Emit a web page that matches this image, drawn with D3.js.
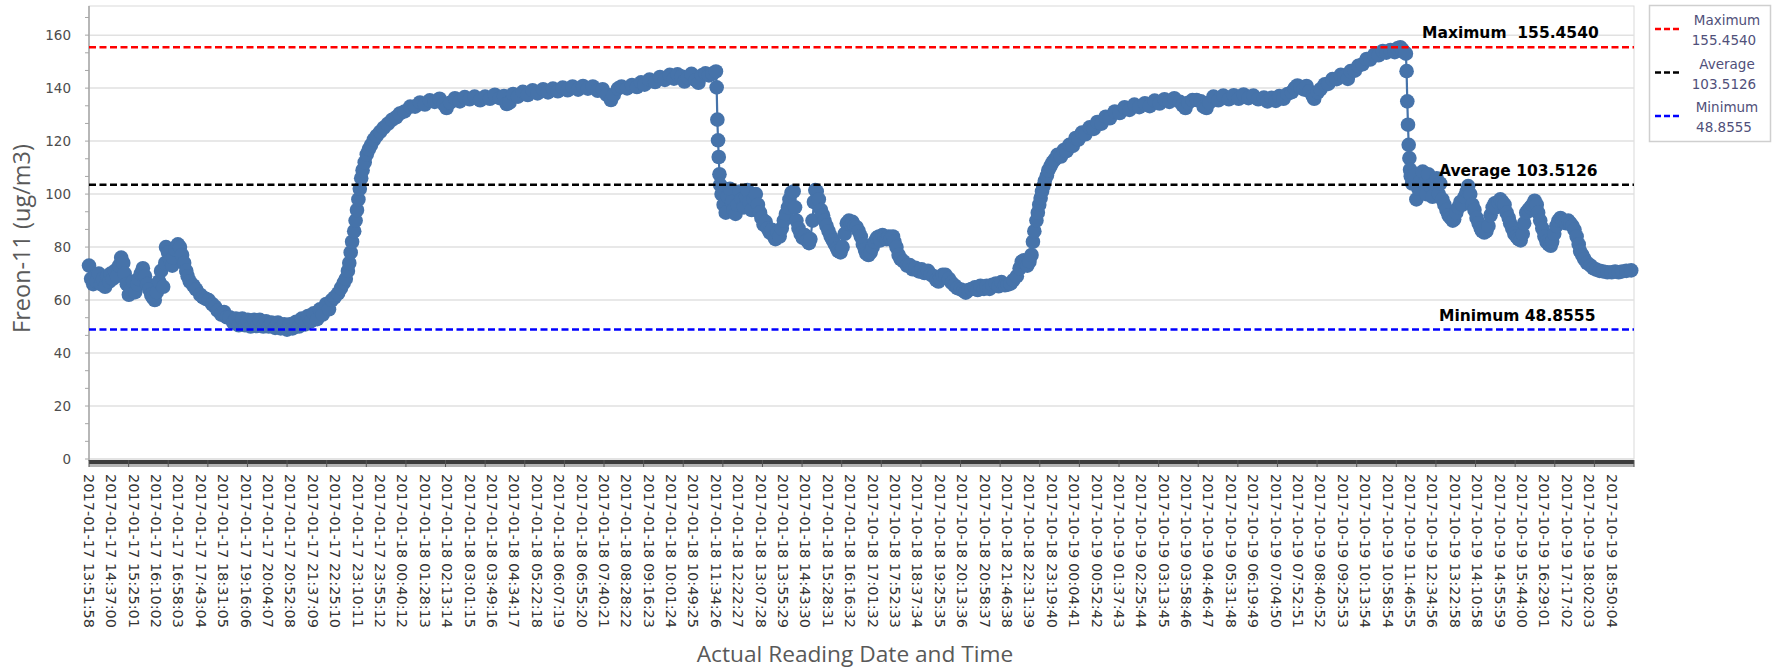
<!DOCTYPE html>
<html>
<head>
<meta charset="utf-8">
<script src="https://cdn.jsdelivr.net/npm/d3@7"></script>
<style>
  html, body { margin: 0; padding: 0; background: #ffffff; }
  svg { display: block; }
</style>
</head>
<body>
<svg id="chart" width="1779" height="668"></svg>
<script>
// Freon-11 concentration readings, one marker per sampled reading.
// Readings are numbered along the category axis; a date label is printed every 32 readings.
const readingsPerLabel = 32;

const tickLabels = [
  "2017-01-17 13:51:58", "2017-01-17 14:37:00", "2017-01-17 15:25:01", "2017-01-17 16:10:02",
  "2017-01-17 16:58:03", "2017-01-17 17:43:04", "2017-01-17 18:31:05", "2017-01-17 19:16:06",
  "2017-01-17 20:04:07", "2017-01-17 20:52:08", "2017-01-17 21:37:09", "2017-01-17 22:25:10",
  "2017-01-17 23:10:11", "2017-01-17 23:55:12", "2017-01-18 00:40:12", "2017-01-18 01:28:13",
  "2017-01-18 02:13:14", "2017-01-18 03:01:15", "2017-01-18 03:49:16", "2017-01-18 04:34:17",
  "2017-01-18 05:22:18", "2017-01-18 06:07:19", "2017-01-18 06:55:20", "2017-01-18 07:40:21",
  "2017-01-18 08:28:22", "2017-01-18 09:16:23", "2017-01-18 10:01:24", "2017-01-18 10:49:25",
  "2017-01-18 11:34:26", "2017-01-18 12:22:27", "2017-01-18 13:07:28", "2017-01-18 13:55:29",
  "2017-01-18 14:43:30", "2017-01-18 15:28:31", "2017-01-18 16:16:32", "2017-10-18 17:01:32",
  "2017-10-18 17:52:33", "2017-10-18 18:37:34", "2017-10-18 19:25:35", "2017-10-18 20:13:36",
  "2017-10-18 20:58:37", "2017-10-18 21:46:38", "2017-10-18 22:31:39", "2017-10-18 23:19:40",
  "2017-10-19 00:04:41", "2017-10-19 00:52:42", "2017-10-19 01:37:43", "2017-10-19 02:25:44",
  "2017-10-19 03:13:45", "2017-10-19 03:58:46", "2017-10-19 04:46:47", "2017-10-19 05:31:48",
  "2017-10-19 06:19:49", "2017-10-19 07:04:50", "2017-10-19 07:52:51", "2017-10-19 08:40:52",
  "2017-10-19 09:25:53", "2017-10-19 10:13:54", "2017-10-19 10:58:54", "2017-10-19 11:46:55",
  "2017-10-19 12:34:56", "2017-10-19 13:22:58", "2017-10-19 14:10:58", "2017-10-19 14:55:59",
  "2017-10-19 15:44:00", "2017-10-19 16:29:01", "2017-10-19 17:17:02", "2017-10-19 18:02:03",
  "2017-10-19 18:50:04"
];

// Reading numbers of the sampled points (rows line up with the rows of `freon`)
const readingNo = [
  0,3,6,9,11,14,17,20,23,26,29,31,34,37,40,43,46,49,51,54,57,60,63,66,69,71,74,77,80,83,86,89,91,94,97,100,
  103,106,109,110,113,116,119,121,124,127,130,133,136,139,141,144,149,153,159,163,167,171,176,180,184,189,193,197,
  201,206,210,214,219,223,227,231,236,240,244,249,253,257,261,266,270,274,279,283,287,291,296,300,304,309,313,317,321,326,330,334,339,343,
  347,351,356,360,364,367,370,372,374,376,379,381,383,385,387,389,391,394,397,400,403,407,411,416,421,427,433,439,
  444,451,459,466,473,480,487,494,501,507,511,516,523,530,537,544,551,559,
  566,573,580,587,593,597,601,606,613,620,627,634,641,649,656,663,670,677,684,691,699,706,713,720,727,734,
  740,746,750,756,761,769,776,783,789,794,801,809,816,823,830,836,841,847,851,856,861,867,871,876,881,886,891,
  896,897,898,899,900,901,902,
  904,907,910,913,916,919,921,924,927,930,933,936,939,941,944,947,950,953,956,959,
  961,964,967,970,973,976,979,981,984,987,990,993,996,999,1001,1004,1007,1009,1011,1014,
  1017,1020,1023,1026,1029,1031,1034,1036,1038,1040,1043,1046,1049,1051,1054,1057,1060,1063,1066,1069,
  1071,1074,1077,1080,1083,1086,1089,1091,1094,1097,1100,1103,1106,1109,1111,1114,1117,1120,1123,1126,
  1129,1131,1134,1137,1140,1143,1146,1149,1151,1154,1157,1160,
  1164,1169,1173,1177,1181,1186,1190,1194,1199,1203,1207,1211,1214,1217,1220,1224,1229,1233,1237,1241,
  1246,1250,1253,1257,1261,1266,1270,1274,1279,1283,1287,1291,1296,1300,1304,1309,1313,1317,1321,1326,
  1330,1333,1336,1339,1341,1344,1347,
  1349,1351,1354,1356,1358,1360,1362,1364,1366,1369,1371,1374,1377,1380,
  1384,1389,1393,1397,1401,1406,1410,1414,1419,1424,1430,1436,1441,1447,1453,1459,1466,1473,1480,1487,1494,1501,1509,1516,1523,1530,1537,1544,1551,1559,
  1563,1567,1571,1577,1583,1589,1593,1597,
  1601,1607,1614,1621,1629,1636,1643,1650,1657,1664,1671,1679,1684,1690,1696,1701,1707,1713,1719,
  1723,1727,1731,
  1736,1740,1744,1749,1751,1756,1760,1766,1771,1777,1783,1789,1794,1799,1803,1809,1814,1820,1826,1831,1837,1843,1849,1854,1860,1866,
  1870,1874,1877,1880,1882,
  1883,1884,1885,1886,1887,1888,1889,
  1891,1894,1897,1900,1903,1906,1909,1911,1914,1917,1920,1923,1926,1929,1931,1934,1937,1940,1943,1946,1949,
  1951,1954,1957,1960,1963,1966,1969,1971,1974,1977,1980,1983,1986,1989,1991,1994,1997,2000,2003,2006,2009,
  2011,2014,2017,2020,2023,2026,2029,2031,2034,2037,2040,2043,2046,2049,2051,2054,2057,2060,2063,2066,2069,
  2071,2074,2077,2080,2083,2086,2089,2091,2094,2097,2100,2103,2106,2109,2111,2114,2117,2120,2123,2126,2129,
  2131,2134,2137,2141,2146,2150,2154,2159,2164,2170,2176,2181,2186,2191,2197,2204
];

// Freon-11 (ug/m3) at each sampled reading
const freon = [
  73,68,66,69,67,70,66,68,65,69,67,70,68,71,69,73,76,74,70,66,62,64,67,63,66,68,70,72,69,66,64,62,61,60,63,67,
  71,65,74,80,78,75,73,76,79,81,80,77,74,71,69,67,65.5,64,62,61,60.5,60,58.5,57.5,56,54.5,55.5,53.5,
  53.5,51.5,53,50.5,53,50.5,52.5,50,52.5,50.2,52.5,50,52,50,51.5,49.5,51.5,49.3,50.8,48.8555,50.8,49.3,51.8,50,53,50.8,54,52,55,52.8,56.5,54.5,58.5,56.5,
  60,61,62.5,64.5,66.5,68,71,74,78,82,86,90,94,98,102,106,109,112,115,117,118.5,120.5,122,123.5,125,126.5,128,129,
  130.4,131.2,133,133,134.6,133.8,135.4,134.8,136,134,132.5,134.5,136.2,135,136.6,135.8,136.8,135.4,
  136.8,136,137.5,136.2,137,134,134.5,137.8,136.8,138.6,137.4,139.2,138,139.6,138.4,139.8,138.8,140.2,139.2,140.6,139.4,140.8,139.8,140.6,139,139.6,
  137.5,135.5,137.5,139.8,140.6,139.9,141.2,140.4,142.2,141.3,143.2,142.3,144.2,143.1,145,143.6,145.2,144.4,142.5,144,145.4,143,142,144.8,145.6,144.8,145.4,
  146.3,140.3,128.1,120.3,114,107.5,103.5,
  100,96,93,99,102,97,94,92.5,96,101,98,95,99,101.5,97,94,98,100,96,93,
  91,88.5,89.5,87,85.5,86.5,84,83,85.5,84,87,90,92.5,95,98,100.5,101,95,90,87,
  85,83.5,84.5,82.5,81.5,83,90,97,101.5,101,98,94,92,90,88,86,84,82.5,81,79.5,
  78.5,78,80,85,89,90,88.5,89.5,88,87.5,86,84,81,79,77.5,77,78,80,82,83.5,
  84,82.5,84.5,84,83,84,83.5,84,82,80,77,75.5,
  74.6,73,73.2,71.6,72.2,70.8,71.6,70.2,71,69.6,69,67.5,67,68,69.5,69.5,68,66.5,65.5,64.5,
  64,63.5,62.8,63.8,64.2,64.8,63.8,65.4,64.2,65.4,64.2,65.8,66.2,65.2,66.8,65.6,65.8,66.2,67.5,69,
  72,74.5,75,74,73,74.5,77,
  82,86,90,93,96,98.5,101,103,105,107,109,110.5,112,113,
  114.8,114.2,116.6,116.2,118.6,118.2,121.2,120.6,123.2,122.6,125.2,124.6,127.2,126.6,129.2,128.6,131.2,130.6,132.8,131.8,133.8,132.8,134.3,133.2,135.3,134.2,135.8,134.8,136.2,134.8,
  133.5,132.5,134.5,135.5,135.5,135,133,132.5,
  134.5,136.8,135.4,137.2,135.8,137.3,136,137.6,136.2,137.2,135.8,136.4,135,136.3,135.2,137,136,137.8,138.5,
  140,141,140.5,
  139.5,140.8,138.8,137,136,138.4,139.6,141.4,141.6,143.4,143.4,145,144.4,143.5,146.4,146.6,148.4,149,151,150.8,152.6,152.4,154,153.4,154.4,153.6,
  155,155.454,154.5,153.5,153,
  146.4,135,126.2,118.6,113.6,109.2,106.7,
  104,107,98,102,105,108.5,104,100,107.5,103,99,104,106,100,104,98,96,94,92,91,90,
  90.5,93,95,97,96,99,101,103,100,96,94,91,89,87,86,85.5,86,88,92,95,96.5,
  95,97,98,97,96,93,91,89,87,85,84,83,82.5,85,89,93,94,95,96,97.5,96,
  93,90,87,84,82,81,80.5,82,85,88,90,91,90,89.5,89,90,89,88,86.5,84,81,
  78.5,77,75.5,74,73,72,71.5,71,70.8,70.5,70.5,70.8,70.5,70.8,71,71.2
];

const yTicks = [0, 20, 40, 60, 80, 100, 120, 140, 160];
const yMax = 171;

// Constant lines: maximum, average and minimum of the series
const refNames  = ["Maximum", "Average", "Minimum"];
const refValues = [155.4540, 103.5126, 48.8555];
const refColors = ["#ff0000", "#000000", "#0000ff"];

const svg = d3.select("#chart");
const plot = { left: 89, right: 1634, top: 6, bottom: 459 };
const totalReadings = tickLabels.length * readingsPerLabel;

const x = d3.scaleLinear().domain([0, totalReadings]).range([plot.left, plot.right]);
const y = d3.scaleLinear().domain([0, yMax]).range([plot.bottom, plot.top]);

const points = readingNo.map((r, i) => ({ r, v: freon[i] }));

// Plot frame
svg.append("rect")
  .attr("x", plot.left).attr("y", plot.top)
  .attr("width", plot.right - plot.left).attr("height", plot.bottom - plot.top)
  .attr("fill", "#ffffff").attr("stroke", "#d9d9d9").attr("stroke-width", 1);

// Horizontal gridlines
svg.append("g").selectAll("line").data(yTicks).join("line")
  .attr("x1", plot.left).attr("x2", plot.right)
  .attr("y1", d => y(d)).attr("y2", d => y(d))
  .attr("stroke", "#e1e1e1").attr("stroke-width", 1.5);

// Y axis with minor ticks
const yAxisG = svg.append("g");
yAxisG.append("line")
  .attr("x1", plot.left).attr("x2", plot.left)
  .attr("y1", plot.top).attr("y2", plot.bottom + 2)
  .attr("stroke", "#a6a6a6").attr("stroke-width", 1.5);
const minorTicks = [];
for (let v = 0; v <= yMax; v += 20 / 3) minorTicks.push(v);
yAxisG.selectAll("line.minor").data(minorTicks).join("line")
  .attr("class", "minor")
  .attr("x1", plot.left - 4).attr("x2", plot.left)
  .attr("y1", d => y(d)).attr("y2", d => y(d))
  .attr("stroke", "#a6a6a6").attr("stroke-width", 1);
yAxisG.selectAll("text").data(yTicks).join("text")
  .attr("x", plot.left - 18).attr("y", d => y(d))
  .attr("dy", "0.35em")
  .attr("text-anchor", "end")
  .attr("font-family", "DejaVu Sans, Verdana, sans-serif")
  .attr("font-size", 13.5)
  .attr("fill", "#4d4d4d")
  .text(d => d);

// Series: connecting line and markers
const color = "#4673aa";
svg.append("path")
  .datum(points)
  .attr("fill", "none")
  .attr("stroke", color)
  .attr("stroke-width", 2.2)
  .attr("d", d3.line().x(d => x(d.r)).y(d => y(d.v)));
svg.append("g").selectAll("circle").data(points).join("circle")
  .attr("cx", d => x(d.r)).attr("cy", d => y(d.v))
  .attr("r", 7.3)
  .attr("fill", color);

// X axis bar with ticks
const xAxisG = svg.append("g");
xAxisG.append("rect")
  .attr("x", plot.left).attr("y", plot.bottom + 1)
  .attr("width", plot.right - plot.left).attr("height", 4)
  .attr("fill", "#3c3c3c");
xAxisG.append("rect")
  .attr("x", plot.left).attr("y", plot.bottom + 5)
  .attr("width", plot.right - plot.left).attr("height", 3)
  .attr("fill", "#b4b4b4");
const majorCount = 39;
xAxisG.selectAll("line.major").data(d3.range(majorCount + 1)).join("line")
  .attr("class", "major")
  .attr("x1", d => x(d * totalReadings / majorCount)).attr("x2", d => x(d * totalReadings / majorCount))
  .attr("y1", plot.bottom + 1).attr("y2", plot.bottom + 8)
  .attr("stroke", "#555").attr("stroke-width", 1);

// X tick labels, rotated to read top-down
svg.append("g").selectAll("text").data(tickLabels).join("text")
  .attr("transform", (d, i) => `translate(${x(i * readingsPerLabel)},${plot.bottom + 15}) rotate(90)`)
  .attr("dy", "0.35em")
  .attr("font-family", "DejaVu Sans, Verdana, sans-serif")
  .attr("font-size", 14.5)
  .attr("fill", "#333333")
  .text(d => d);

// Constant lines with their captions
const refG = svg.append("g");
refValues.forEach((v, i) => {
  refG.append("line")
    .attr("x1", plot.left).attr("x2", plot.right)
    .attr("y1", y(v)).attr("y2", y(v))
    .attr("stroke", refColors[i]).attr("stroke-width", 2.5)
    .attr("stroke-dasharray", "7,3.5");
});
const refLabelX = [1422, 1439, 1439];
refValues.forEach((v, i) => {
  refG.append("text")
    .attr("x", refLabelX[i]).attr("y", y(v) - 9)
    .attr("font-family", "DejaVu Sans, Verdana, sans-serif")
    .attr("font-weight", "bold")
    .attr("font-size", 15.5)
    .attr("fill", "#000")
    .attr("xml:space", "preserve")
    .text(refNames[i] + (i === 0 ? "  " : " ") + v.toFixed(4));
});

// Axis titles
svg.append("text")
  .attr("transform", `translate(22,${(plot.top + plot.bottom) / 2 + 6}) rotate(-90)`)
  .attr("text-anchor", "middle")
  .attr("dy", "0.35em")
  .attr("font-family", "Open Sans, sans-serif")
  .attr("font-size", 23.5)
  .attr("fill", "#595959")
  .text("Freon-11 (ug/m3)");
svg.append("text")
  .attr("x", 855).attr("y", 662)
  .attr("text-anchor", "middle")
  .attr("font-family", "Open Sans, sans-serif")
  .attr("font-size", 22.7)
  .attr("fill", "#595959")
  .text("Actual Reading Date and Time");

// Legend
const legend = svg.append("g");
legend.append("rect")
  .attr("x", 1649.5).attr("y", 5.5).attr("width", 121).attr("height", 136)
  .attr("fill", "#fff").attr("stroke", "#cfcfcf").attr("stroke-width", 1.5);
refValues.forEach((v, i) => {
  const top = 10 + i * 43.5;
  legend.append("line")
    .attr("x1", 1655).attr("x2", 1682)
    .attr("y1", top + 19).attr("y2", top + 19)
    .attr("stroke", refColors[i]).attr("stroke-width", 2.5)
    .attr("stroke-dasharray", "6,3");
  legend.append("text")
    .attr("x", 1727).attr("y", top + 15)
    .attr("text-anchor", "middle")
    .attr("font-family", "DejaVu Sans, Verdana, sans-serif")
    .attr("font-size", 13.5)
    .attr("fill", "#50507a")
    .text(refNames[i]);
  legend.append("text")
    .attr("x", 1724).attr("y", top + 35)
    .attr("text-anchor", "middle")
    .attr("font-family", "DejaVu Sans, Verdana, sans-serif")
    .attr("font-size", 13.5)
    .attr("fill", "#50507a")
    .text(v.toFixed(4));
});
</script>
</body>
</html>
